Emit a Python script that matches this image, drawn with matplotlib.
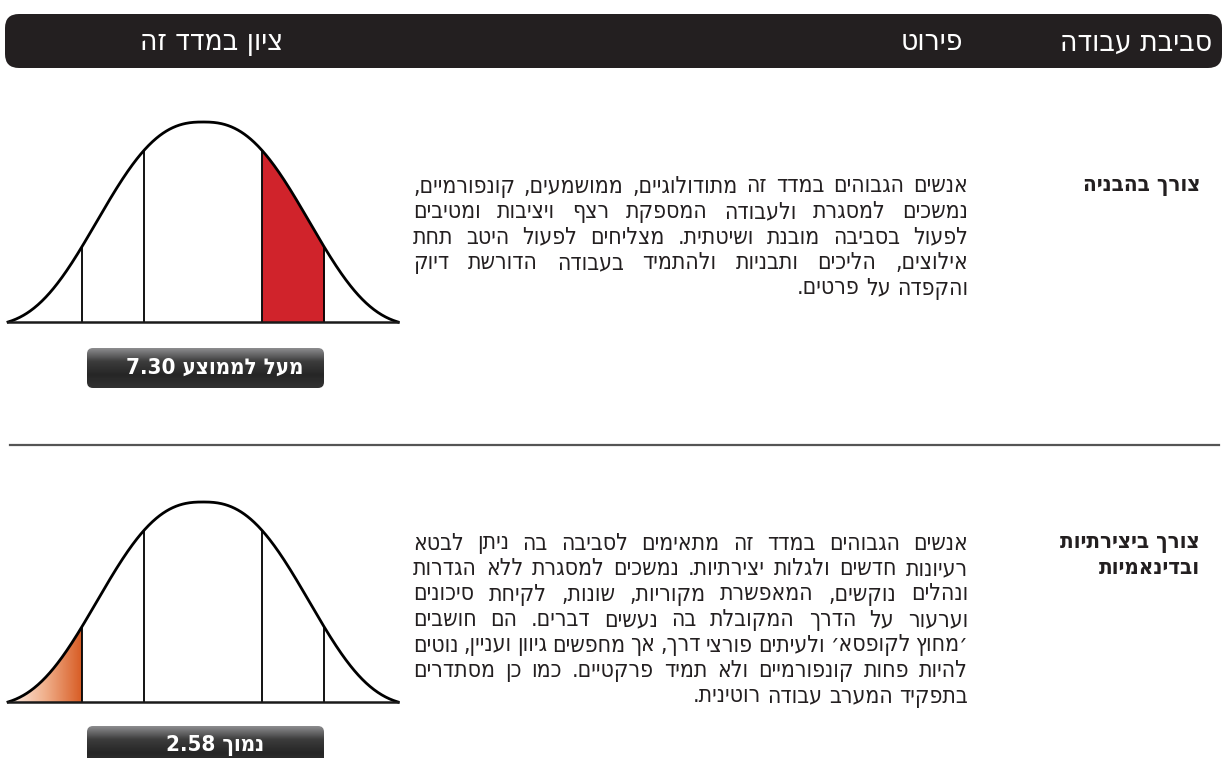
import re
import numpy as np
import matplotlib
matplotlib.use("Agg")
import matplotlib.pyplot as plt
from matplotlib.patches import FancyBboxPatch, Polygon
from matplotlib.colors import LinearSegmentedColormap

plt.rcParams['font.family'] = ['DejaVu Sans']

# ---- data ----
header_labels = ["סביבת עבודה", "פירוט", "ציון במדד זה"]
row_titles = [["צורך בהבניה"], ["צורך ביצירתיות", "ובדינאמיות"]]
row_texts = [
    ["אנשים הגבוהים במדד זה מתודולוגיים, ממושמעים, קונפורמיים,",
     "נמשכים למסגרת ולעבודה המספקת רצף ויציבות ומטיבים",
     "לפעול בסביבה מובנת ושיטתית. מצליחים לפעול היטב תחת",
     "אילוצים, הליכים ותבניות ולהתמיד בעבודה הדורשת דיוק",
     "והקפדה על פרטים."],
    ["אנשים הגבוהים במדד זה מתאימים לסביבה בה ניתן לבטא",
     "רעיונות חדשים ולגלות יצירתיות. נמשכים למסגרת ללא הגדרות",
     "ונהלים נוקשים, המאפשרת מקוריות, שונות, לקיחת סיכונים",
     "וערעור על הדרך המקובלת בה נעשים דברים. הם חושבים",
     "׳מחוץ לקופסא׳ ולעיתים פורצי דרך, אך מחפשים גיוון ועניין, נוטים",
     "להיות פחות קונפורמיים ולא תמיד פרקטיים. כמו כן מסתדרים",
     "בתפקיד המערב עבודה רוטינית."],
]
score_words = ["מעל לממוצע", "נמוך"]
scores = [7.30, 2.58]
band_edges = [-3.3, -2.05, -1.0, 1.0, 2.05, 3.3]
shaded_band = [3, 0]
band_style = ["red", "orange"]

# layout (pixels)
W, H = 1229, 758
row_top = [186, 543]
line_dy = 25.5
bell_base = [322, 702]
box_top = [348, 726]


def vis(s):
    # matplotlib draws left to right: flip Hebrew to visual order, keep numbers
    r = s[::-1]
    return re.sub(r"\d[\d.]*\d|\d", lambda m: m.group(0)[::-1], r)


def bell(x):
    f = np.exp(-(np.abs(x) / 2.12) ** 2.5)
    return f * (1 - (np.abs(x) / 3.3) ** 6)


fig = plt.figure(figsize=(W / 100, H / 100), dpi=100)
bg = fig.add_axes([0, 0, 1, 1])
bg.set_xlim(0, W)
bg.set_ylim(H, 0)
bg.axis("off")

# header bar
bg.add_patch(FancyBboxPatch((5, 14), 1217, 54, boxstyle="round,pad=0,rounding_size=14",
                            fc="#231f20", ec="none"))
for lab, xr in zip(header_labels, [1212, 963, 283]):
    bg.text(xr, 42, vis(lab), color="white", fontsize=21.5, fontstretch="condensed",
            ha="right", va="center")

# separator
bg.plot([10, 1219], [445, 445], color="#555555", lw=1.6)

renderer = fig.canvas.get_renderer()
body_kw = dict(fontsize=16.5, fontstretch="condensed", color="#231f20", va="center")


def width_of(t):
    return t.get_window_extent(renderer).width


space_t = bg.text(0, -50, vis("א א"), **body_kw)
a_t = bg.text(0, -50, vis("אא"), **body_kw)
space_w = width_of(space_t) - width_of(a_t)
space_t.remove()
a_t.remove()

x_right, x_left = 968, 413
for r in range(2):
    # row title
    for j, t in enumerate(row_titles[r]):
        bg.text(1200, row_top[r] + j * 25, vis(t), fontsize=16, fontweight="bold",
                fontstretch="condensed", color="#231f20", ha="right", va="center")
    # justified paragraph
    lines = row_texts[r]
    for i, line in enumerate(lines):
        y = row_top[r] + i * line_dy
        words = line.split(" ")
        texts = [bg.text(0, y, vis(w), ha="left", **body_kw) for w in words]
        widths = [width_of(t) for t in texts]
        if i < len(lines) - 1 and len(words) > 1:
            gap = (x_right - x_left - sum(widths)) / (len(words) - 1)
        else:
            gap = space_w
        x = x_right
        for t, w in zip(texts, widths):
            t.set_x(x - w)
            x -= w + gap

    # bell curve
    b = fig.add_axes([8 / W, 1 - bell_base[r] / H, 390 / W, 201 / H])
    b.set_xlim(band_edges[0], band_edges[-1])
    b.set_ylim(0, 1.005)
    b.axis("off")
    xs = np.linspace(band_edges[0], band_edges[-1], 600)
    k = shaded_band[r]
    lo, hi = band_edges[k], band_edges[k + 1]
    xb = np.linspace(lo, hi, 200)
    if band_style[r] == "red":
        b.fill_between(xb, 0, bell(xb), color="#d0232b", lw=0)
    else:
        poly = Polygon(np.column_stack([np.r_[xb, hi, lo], np.r_[bell(xb), 0, 0]]),
                       closed=True, fc="none", ec="none", transform=b.transData)
        b.add_patch(poly)
        cmap = LinearSegmentedColormap.from_list("o", ["#fdf0e8", "#f0b08c", "#d85c24"])
        im = b.imshow(np.linspace(0, 1, 256)[None, :], cmap=cmap, aspect="auto",
                      extent=[lo, hi, 0, bell(np.array([hi]))[0]], origin="lower", zorder=1)
        im.set_clip_path(poly)
        b.set_xlim(band_edges[0], band_edges[-1])
        b.set_ylim(0, 1.005)
    for e in band_edges[1:-1]:
        b.plot([e, e], [0, bell(np.array([e]))[0]], color="black", lw=1.3, zorder=3,
               solid_capstyle="butt")
    b.plot(xs, bell(xs), color="black", lw=2.0, zorder=4, clip_on=False)
    b.plot([band_edges[0], band_edges[-1]], [0, 0], color="#1a1a1a", lw=1.8, zorder=4,
           clip_on=False)

    # score box with vertical gradient
    bx0, bx1, by0 = 87, 324, box_top[r]
    box = FancyBboxPatch((bx0, by0), bx1 - bx0, 40, boxstyle="round,pad=0,rounding_size=6",
                         fc="none", ec="none")
    bg.add_patch(box)
    gcm = LinearSegmentedColormap.from_list("g", ["#8c8c8e", "#3c3c3c", "#262626", "#333333"])
    gim = bg.imshow(np.linspace(0, 1, 64)[:, None], cmap=gcm, aspect="auto",
                    extent=[bx0, bx1, by0 + 40, by0], origin="upper", zorder=2)
    gim.set_clip_path(box)
    bg.text(215, by0 + 20, vis(f"{score_words[r]} {scores[r]:.2f}"), color="white",
            fontsize=16, fontweight="bold", fontstretch="condensed",
            ha="center", va="center", zorder=3)

bg.set_xlim(0, W)
bg.set_ylim(H, 0)
fig.savefig("out.png", dpi=100)
